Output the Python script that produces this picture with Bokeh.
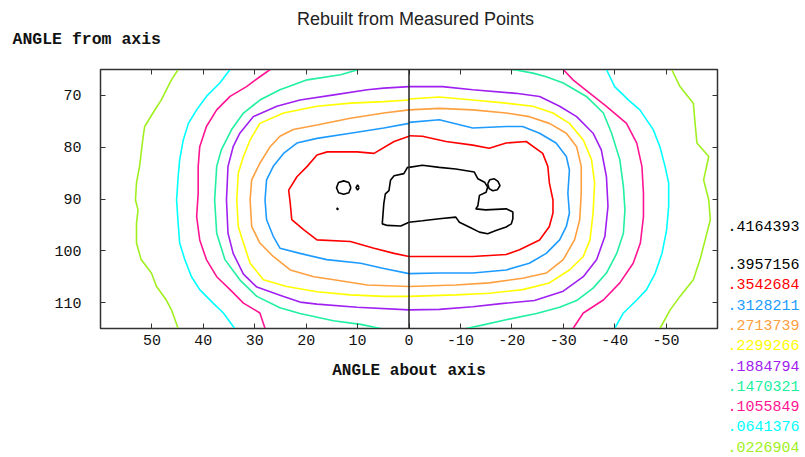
from bokeh.plotting import figure
from bokeh.layouts import column, row
from bokeh.models import Range1d, FixedTicker, LinearAxis, Label, Span
from bokeh.embed import file_html
from bokeh.resources import INLINE

# ---------------- data ----------------
x_ticks = [50, 40, 30, 20, 10, 0, -10, -20, -30, -40, -50]
x_tick_labels = ["50", "40", "30", "20", "10", "0", "-10", "-20", "-30", "-40", "-50"]
y_ticks = [70, 80, 90, 100, 110]
y_tick_labels = ["70", "80", "90", "100", "110"]

z_max_label = ".4164393"
level_labels = [".3957156", ".3542684", ".3128211", ".2713739", ".2299266",
                ".1884794", ".1470321", ".1055849", ".0641376", ".0226904"]
level_colors = ["#000000", "#ff0000", "#1e9bff", "#ffa040", "#ffff00",
                "#a020f0", "#20f0a0", "#ff1493", "#00ffff", "#a0f020"]

# contour lines (x = angle about axis, y = angle from axis), one list of segments per level
c_3957156 = [
    [(0.0, 83.9), (-2.6, 83.5), (-5.9, 83.9), (-9.1, 84.2), (-12.7, 84.8), (-13.4, 86.1), (-14.7, 86.75),
     (-15.3, 87.7), (-15.0, 88.7), (-13.7, 89.3), (-13.4, 91.3), (-13.0, 91.9), (-14.9, 92.1), (-18.9, 91.9),
     (-20.2, 92.5), (-20.2, 93.8), (-19.9, 94.8), (-18.9, 95.4), (-16.9, 96.1), (-15.3, 96.7), (-13.7, 96.4),
     (-11.7, 95.4), (-9.8, 94.5), (-9.1, 93.5), (-5.9, 93.8), (-2.6, 94.2), (0.0, 94.5), (1.6, 95.2),
     (4.2, 95.1), (5.2, 94.8), (4.9, 90.9), (4.6, 89.0), (3.9, 88.4), (3.6, 86.4), (2.9, 85.5), (1.0, 85.1),
     (0.3, 83.9), (0.0, 83.9)],
    [(-15.3, 87.1), (-15.7, 86.3), (-16.6, 86.1), (-17.3, 86.6), (-17.7, 87.4), (-17.2, 88.2), (-16.3, 88.4),
     (-15.6, 88.0), (-15.3, 87.1)],
    [(11.3, 87.8), (11.7, 86.8), (12.7, 86.5), (13.7, 86.8), (14.1, 87.8), (13.7, 88.8), (12.7, 89.1),
     (11.7, 88.8), (11.3, 87.8)],
    [(9.7, 87.8), (10.0, 87.3), (10.3, 87.8), (10.0, 88.3), (9.7, 87.8)],
    [(13.8, 91.8), (14.0, 91.8), (14.0, 92.0), (13.8, 92.0), (13.8, 91.8)],
]
c_3542684 = [
    [(0.0, 77.9), (2.9, 78.9), (6.8, 81.2), (10.1, 80.9), (15.9, 80.9), (17.9, 81.5), (19.8, 83.7), (21.8, 85.7),
     (23.4, 88.3), (23.1, 90.8), (22.8, 94.0), (20.5, 95.9), (17.9, 97.9), (11.4, 98.2), (6.8, 99.5),
     (2.9, 100.5), (0.0, 101.1)],
    [(0.0, 77.8), (-2.6, 77.9), (-7.2, 78.9), (-12.4, 79.6), (-15.6, 80.2), (-18.9, 79.2), (-22.8, 78.9),
     (-26.0, 81.2), (-27.0, 83.7), (-27.3, 86.9), (-28.0, 90.2), (-28.0, 92.7), (-27.3, 95.3), (-25.4, 97.9),
     (-21.5, 99.8), (-18.9, 100.7), (-12.4, 101.1), (-5.9, 101.1), (0.0, 101.1)],
]
c_3128211 = [
    [(0.0, 75.4), (4.9, 76.3), (11.4, 77.3), (17.9, 78.3), (21.8, 79.2), (24.4, 81.2), (26.4, 83.7), (27.7, 86.3),
     (28.0, 90.2), (27.7, 94.0), (26.4, 97.2), (25.1, 99.5), (21.2, 100.5), (16.0, 101.7), (9.4, 102.4),
     (4.9, 103.4), (0.0, 104.4)],
    [(0.0, 75.2), (-5.9, 74.7), (-12.4, 76.3), (-18.9, 76.0), (-22.1, 76.0), (-25.4, 77.3), (-28.6, 79.2),
     (-30.6, 81.8), (-31.2, 84.4), (-30.9, 88.9), (-31.2, 92.7), (-30.6, 95.3), (-29.3, 97.9), (-26.7, 100.5),
     (-23.4, 102.4), (-18.9, 103.7), (-12.4, 104.3), (-5.9, 104.3), (0.0, 104.4)],
]
c_2713739 = [
    [(0.0, 72.8), (4.9, 73.4), (11.4, 74.4), (17.9, 75.7), (22.5, 76.6), (25.1, 77.9), (27.0, 79.9), (29.0, 83.1),
     (30.6, 86.3), (30.9, 90.2), (30.6, 95.3), (29.0, 98.5), (26.4, 101.1), (23.1, 103.7), (18.5, 105.0),
     (14.6, 105.6), (8.1, 106.6), (0.0, 106.9)],
    [(0.0, 72.8), (-5.9, 72.5), (-12.4, 72.8), (-18.9, 73.4), (-23.4, 74.1), (-27.3, 75.4), (-30.6, 77.3),
     (-32.6, 79.9), (-33.5, 83.7), (-33.5, 88.9), (-33.2, 94.0), (-32.2, 97.9), (-30.0, 101.7), (-26.7, 104.3),
     (-22.1, 105.3), (-15.6, 106.2), (-9.1, 106.6), (0.0, 106.9)],
]
c_2299266 = [
    [(0.0, 70.9), (4.9, 71.2), (11.4, 71.5), (17.9, 72.1), (24.4, 73.4), (29.0, 75.4), (30.9, 78.6), (32.2, 81.8),
     (33.2, 85.0), (33.5, 90.2), (33.2, 95.3), (32.2, 98.5), (30.9, 102.4), (28.3, 105.6), (23.8, 106.9),
     (17.9, 107.9), (11.4, 108.5), (4.9, 108.8), (0.0, 108.8)],
    [(0.0, 70.7), (-5.9, 70.3), (-12.4, 70.9), (-18.9, 71.5), (-24.1, 72.1), (-28.0, 73.4), (-31.2, 75.4),
     (-33.9, 78.6), (-35.5, 82.4), (-36.1, 86.9), (-35.8, 92.7), (-35.2, 97.9), (-33.9, 101.1), (-31.2, 103.7),
     (-27.3, 106.2), (-22.1, 107.5), (-15.6, 108.2), (-9.1, 108.5), (0.0, 108.8)],
]
c_1884794 = [
    [(0.0, 68.3), (4.9, 68.6), (8.1, 68.9), (14.6, 69.9), (21.2, 70.9), (25.7, 72.1), (30.3, 74.1), (32.9, 77.3),
     (34.2, 79.9), (35.2, 83.7), (35.5, 90.2), (35.2, 96.6), (34.2, 100.5), (32.2, 104.5), (29.6, 107.0),
     (24.4, 108.8), (21.2, 109.9), (17.9, 110.3), (10.1, 110.9), (0.0, 111.4)],
    [(0.0, 68.3), (-6.5, 68.3), (-12.4, 68.9), (-20.8, 69.6), (-25.4, 70.2), (-29.3, 72.1), (-32.6, 74.1),
     (-35.8, 77.3), (-37.4, 80.5), (-38.4, 85.7), (-38.7, 91.4), (-38.1, 97.2), (-36.5, 101.7), (-33.9, 105.0),
     (-30.0, 107.8), (-24.4, 109.6), (-17.9, 110.2), (-12.4, 110.8), (-5.9, 111.3), (0.0, 111.4)],
]
c_1470321 = [
    [(9.8, 65.0), (13.3, 66.0), (19.8, 67.0), (25.1, 68.9), (29.0, 70.9), (32.2, 73.4), (34.5, 76.6), (36.5, 80.5),
     (37.4, 83.7), (37.8, 90.2), (37.4, 96.6), (35.8, 101.7), (32.9, 105.6), (29.6, 108.8), (25.1, 111.0),
     (21.2, 112.1), (14.7, 113.5), (9.4, 114.2), (5.5, 115.0)],
    [(-11.1, 115.0), (-14.0, 114.4), (-18.9, 113.3), (-24.8, 112.1), (-29.3, 110.9), (-32.6, 109.6),
     (-35.8, 107.2), (-38.4, 104.3), (-40.4, 100.5), (-41.7, 96.6), (-42.0, 92.1), (-41.7, 87.6), (-41.0, 82.4),
     (-39.4, 77.3), (-37.8, 73.4), (-34.5, 70.2), (-30.0, 67.6), (-26.7, 66.4), (-24.1, 65.7), (-20.8, 65.1),
     (-19.9, 65.0)],
]
c_1055849 = [
    [(27.0, 65.0), (29.0, 66.4), (31.6, 68.3), (34.8, 70.2), (37.4, 72.8), (39.4, 76.0), (40.7, 79.9), (41.0, 83.7),
     (41.0, 88.9), (41.3, 93.4), (40.7, 97.9), (39.4, 101.7), (37.4, 105.0), (34.8, 107.5), (32.2, 110.1),
     (29.0, 112.0), (28.0, 115.0)],
    [(-30.0, 65.0), (-31.9, 67.0), (-35.2, 69.6), (-38.4, 72.1), (-42.3, 75.4), (-44.3, 79.2), (-45.3, 83.7),
     (-45.6, 88.9), (-45.6, 93.4), (-45.0, 98.5), (-43.6, 102.4), (-41.0, 106.2), (-37.8, 109.5), (-33.9, 112.0),
     (-31.9, 115.0)],
]
c_0641376 = [
    [(34.8, 65.0), (36.8, 67.6), (39.4, 70.2), (41.3, 72.8), (42.9, 75.4), (43.9, 78.6), (44.6, 82.4), (44.9, 85.7),
     (45.2, 90.2), (44.9, 94.7), (44.6, 98.5), (43.6, 101.7), (42.3, 105.0), (40.7, 107.5), (38.1, 110.1),
     (36.1, 112.0), (33.9, 115.0)],
    [(-38.4, 65.0), (-40.0, 68.3), (-42.7, 70.9), (-44.9, 72.8), (-47.5, 76.6), (-48.8, 79.9), (-49.8, 83.7),
     (-50.5, 86.9), (-50.5, 91.4), (-50.1, 96.0), (-49.2, 100.5), (-47.9, 104.3), (-46.2, 107.5), (-44.3, 109.5),
     (-41.7, 112.0), (-40.0, 115.0)],
]
c_0226904 = [
    [(44.9, 65.0), (46.2, 67.0), (48.2, 70.9), (49.8, 73.4), (51.4, 76.0), (51.7, 77.9), (52.1, 81.2), (52.4, 83.7),
     (53.0, 86.9), (53.2, 90.2), (52.7, 92.1), (53.0, 94.7), (53.0, 98.5), (52.1, 101.7), (50.1, 104.3),
     (49.1, 106.9), (47.2, 109.5), (46.2, 111.4), (44.9, 115.0)],
    [(-51.1, 65.0), (-52.7, 68.3), (-55.3, 71.5), (-55.7, 76.0), (-56.0, 79.2), (-58.3, 81.8), (-57.3, 86.3),
     (-58.3, 90.2), (-58.6, 94.0), (-57.6, 97.9), (-56.6, 101.7), (-55.3, 105.6), (-52.7, 108.8), (-50.8, 111.4),
     (-48.8, 115.0)],
]
contours = [c_3957156, c_3542684, c_3128211, c_2713739, c_2299266,
            c_1884794, c_1470321, c_1055849, c_0641376, c_0226904]

# ---------------- layout ----------------
W, H = 805, 457
TOP_H = 50            # strip holding the title and the y-axis caption
MAIN_W = 725          # width of the left column; the legend strip takes the rest
FRAME_L, FRAME_R, FRAME_T, FRAME_B = 100, 717, 69, 328
MONO = "Liberation Mono"
FRAME = "#333333"


def text_strip(w, h):
    f = figure(width=w, height=h, x_range=Range1d(0, w), y_range=Range1d(h, 0),
               output_backend="svg", toolbar_location=None, title=None,
               x_axis_location=None, y_axis_location=None,
               min_border=0, min_border_left=0, min_border_right=0, min_border_top=0, min_border_bottom=0)
    f.xgrid.visible = False
    f.ygrid.visible = False
    f.outline_line_color = None
    return f


# top strip
top = text_strip(MAIN_W, TOP_H)
top.add_layout(Label(x=415, y=18, text="Rebuilt from Measured Points", text_font="Liberation Sans",
                     text_font_size="18px", text_color="#222222", text_align="center", text_baseline="middle"))
top.add_layout(Label(x=12, y=39, text="ANGLE from axis", text_font=MONO, text_font_size="16.5px",
                     text_font_style="bold", text_color="#111111", text_align="left", text_baseline="middle"))

# main contour plot
main_h = H - TOP_H
p = figure(width=MAIN_W, height=main_h, x_range=Range1d(60, -60), y_range=Range1d(115, 65),
           output_backend="svg", toolbar_location=None, title=None,
           min_border_left=FRAME_L, min_border_right=MAIN_W - FRAME_R,
           min_border_top=FRAME_T - TOP_H, min_border_bottom=H - FRAME_B)
p.xgrid.visible = False
p.ygrid.visible = False
p.outline_line_color = FRAME
p.outline_line_width = 1.5

for ax, ticks, labels in ((p.xaxis[0], x_ticks, x_tick_labels), (p.yaxis[0], y_ticks, y_tick_labels)):
    ax.ticker = FixedTicker(ticks=ticks)
    ax.major_label_overrides = {t: l for t, l in zip(ticks, labels)}
    ax.major_tick_in = 5
    ax.major_tick_out = 0
    ax.minor_tick_line_color = None
    ax.axis_line_color = FRAME
    ax.major_tick_line_color = FRAME
    ax.major_label_text_font = MONO
    ax.major_label_text_font_size = "15px"
    ax.major_label_text_color = "#111111"
p.xaxis[0].major_label_standoff = 6
p.yaxis[0].major_label_standoff = 19
p.xaxis[0].axis_label = "ANGLE about axis"
p.xaxis[0].axis_label_text_font = MONO
p.xaxis[0].axis_label_text_font_size = "16px"
p.xaxis[0].axis_label_text_font_style = "bold"
p.xaxis[0].axis_label_text_color = "#111111"
p.xaxis[0].axis_label_standoff = 14

for loc, ticks in (("above", x_ticks), ("right", y_ticks)):
    p.add_layout(LinearAxis(ticker=FixedTicker(ticks=ticks), major_tick_in=5, major_tick_out=0,
                            minor_tick_line_color=None, axis_line_color=FRAME, major_tick_line_color=FRAME,
                            major_label_text_color=None, major_label_text_font_size="0px",
                            major_label_standoff=0), loc)

for segs, col in zip(contours[::-1], level_colors[::-1]):
    xs = [[pt[0] for pt in seg] for seg in segs]
    ys = [[pt[1] for pt in seg] for seg in segs]
    p.multi_line(xs, ys, line_color=col, line_width=1.6)

p.add_layout(Span(location=0, dimension="height", line_color="#222222", line_width=1.5))

# legend strip with the contour levels (full height, absolute pixel rows)
leg = text_strip(W - MAIN_W, H)
lx = 727 - MAIN_W
leg.add_layout(Label(x=lx, y=225, text=z_max_label, text_font=MONO, text_font_size="15px",
                     text_color="#000000", text_align="left", text_baseline="middle"))
for i, (lab, col) in enumerate(zip(level_labels, level_colors)):
    leg.add_layout(Label(x=lx, y=263.5 + i * 20.3, text=lab, text_font=MONO, text_font_size="15px",
                         text_color=col, text_align="left", text_baseline="middle"))

# the top strip is wrapped in its own row so that its frame is not aligned with the plot frame
layout = row(column(row(top), p), leg)
open("out.html", "w").write(file_html(layout, INLINE))
